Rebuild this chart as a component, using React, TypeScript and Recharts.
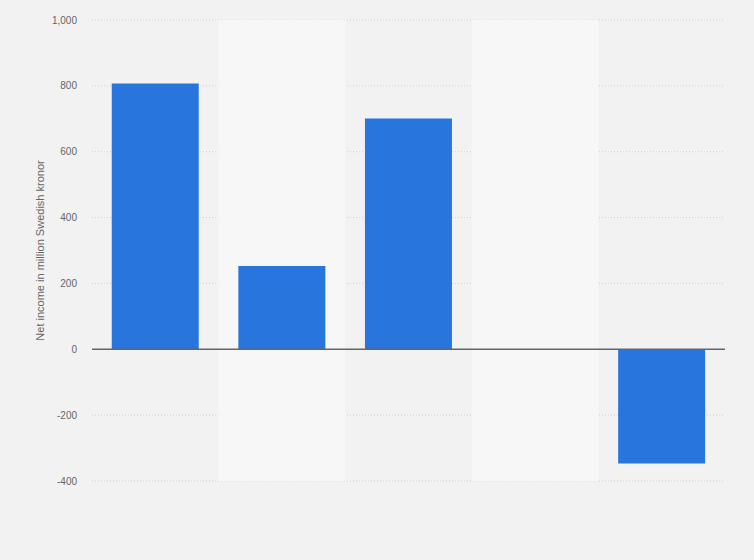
import {
  BarChart,
  Bar,
  XAxis,
  YAxis,
  CartesianGrid,
  ReferenceArea,
  ReferenceLine,
} from "recharts";

const CATEGORIES = ["2017", "2018", "2019", "2020", "2021"];
const NET_INCOME = [807, 253, 701, 0, -347];
const Y_TICKS = [-400, -200, 0, 200, 400, 600, 800, 1000];
const SHADED = ["2018", "2020"];

const data = CATEGORIES.map((year, i) => ({ year, value: NET_INCOME[i] }));

const FONT = "'Liberation Sans', Arial, sans-serif";

export default function App() {
  return (
    <div
      style={{
        position: "absolute",
        left: 0,
        top: 0,
        width: 754,
        height: 560,
        background: "#f2f2f2",
      }}
    >
      <BarChart
        width={754}
        height={560}
        data={data}
        margin={{ top: 20, right: 29, bottom: 79, left: 30 }}
        barCategoryGap="15.6%"
      >
        {SHADED.map((c) => (
          <ReferenceArea
            key={c}
            x1={c}
            x2={c}
            y1={-400}
            y2={1000}
            fill="#f7f7f7"
            fillOpacity={1}
            stroke="none"
          />
        ))}
        <CartesianGrid
          vertical={false}
          stroke="#d0d0d0"
          strokeDasharray="1 2"
        />
        <XAxis dataKey="year" hide />
        <YAxis
          width={62}
          domain={[-400, 1000]}
          ticks={Y_TICKS}
          axisLine={false}
          tickLine={false}
          tickSize={0}
          tickMargin={15}
          tickFormatter={(v) => v.toLocaleString("en-US")}
          tick={{ fontSize: 10, fill: "#666", fontFamily: FONT }}
          label={{
            value: "Net income in million Swedish kronor",
            angle: -90,
            position: "insideLeft",
            offset: 10,
            style: {
              fontSize: 11,
              fill: "#666",
              fontFamily: FONT,
              textAnchor: "middle",
            },
          }}
        />
        <Bar dataKey="value" fill="#2876dd" isAnimationActive={false} />
        <ReferenceLine y={0} stroke="#666" strokeWidth={1.5} />
      </BarChart>
    </div>
  );
}
